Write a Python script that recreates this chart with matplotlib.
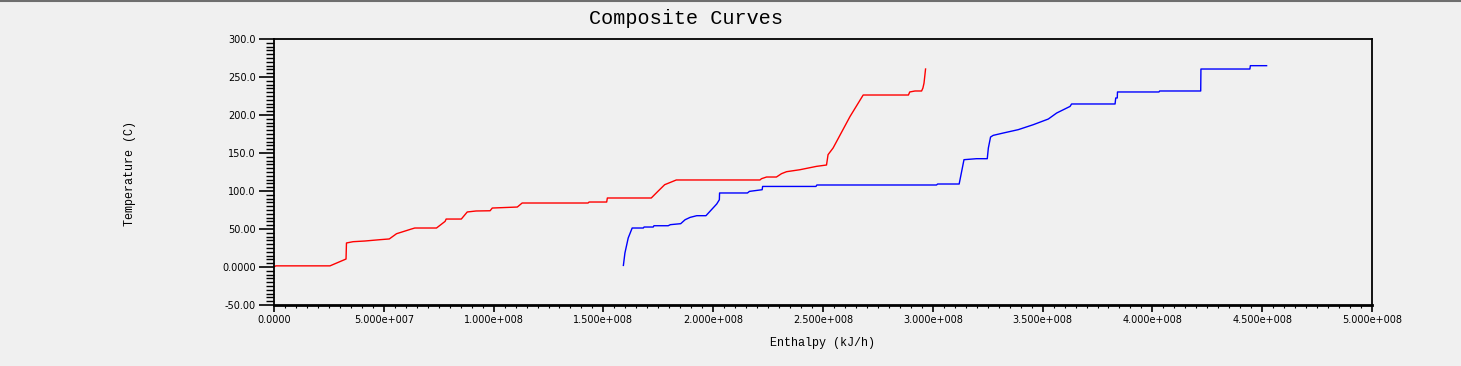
import matplotlib
matplotlib.use('Agg')
import matplotlib.pyplot as plt
from matplotlib.ticker import MultipleLocator, FixedLocator, FixedFormatter
from matplotlib.lines import Line2D

# enthalpy in 1e6 kJ/h, temperature in C
hot_h = [0, 0.8, 25.5, 32.8, 33.0, 36, 41.4, 48.5, 52.5, 55.8, 62.6, 64.1, 74, 77.9, 78.4,
         85.3, 88, 92, 98.4, 99.4, 110.8, 113, 143, 143.5, 151.5, 151.8, 171.8, 174.8,
         177.9, 183.2, 221.3, 222, 224.3, 228.8, 231.1, 233.4, 239.5, 247, 251.6, 252.3,
         254.6, 262.3, 268.3, 288.9, 289.5, 291.9, 294.9, 295.5, 296, 296.7]
hot_t = [0, 1.5, 1.5, 10.5, 31.6, 33.3, 34.2, 36, 36.9, 43.8, 50, 51.3, 51.3, 60, 63.1,
         63.1, 72.4, 73.7, 74, 77.6, 78.9, 84.2, 84.2, 85.5, 85.5, 90.8, 90.8, 99.5,
         108.3, 114.5, 114.5, 116.2, 118.4, 118.4, 122.8, 125.4, 128, 132.4, 134.2, 147.8,
         156.6, 198, 226.3, 226.3, 230.3, 231.6, 231.6, 235.5, 242, 260.5]

cold_h = [159.1, 159.8, 161.3, 163.1, 168.2, 168.5, 172.7, 173, 179.5, 180.5, 185.2, 187.2,
          189.5, 192.5, 196.7, 201.6, 202.8, 202.9, 215.6, 216.5, 222.3, 222.5, 246.8,
          247.2, 301.7, 302.2, 312, 313, 314.2, 319.9, 324.8, 325.3, 326.3, 327.5, 332.1,
          338.9, 345.7, 352.6, 356.4, 362.5, 363.2, 383, 383.3, 384, 384.1, 403, 403.3,
          422, 422.1, 444.4, 444.6, 452]
cold_t = [2.1, 18.4, 38.2, 51.3, 51.3, 52.6, 52.6, 54.3, 54.3, 55.7, 57, 62.2,
          65.3, 67.5, 67.5, 82.9, 88.5, 97.4, 97.4, 99.5, 101.7, 106, 106,
          107.9, 107.9, 109.2, 109.2, 123.7, 141.2, 142.5, 142.5, 156.6, 171, 173.2, 176.3,
          180.7, 187.2, 194.7, 202.6, 211.3, 214.5, 214.5, 222.4, 222.4, 230.3, 230.3, 231.6,
          231.6, 260.5, 260.5, 264.9, 264.9]

x_ticks = [0, 5e7, 1e8, 1.5e8, 2e8, 2.5e8, 3e8, 3.5e8, 4e8, 4.5e8, 5e8]
x_labels = ['0.0000', '5.000e+007', '1.000e+008', '1.500e+008', '2.000e+008', '2.500e+008',
            '3.000e+008', '3.500e+008', '4.000e+008', '4.500e+008', '5.000e+008']
y_ticks = [-50, 0, 50, 100, 150, 200, 250, 300]
y_labels = ['-50.00', '0.0000', '50.00', '100.0', '150.0', '200.0', '250.0', '300.0']

bg = '#f0f0f0'
fig = plt.figure(figsize=(14.61, 3.66), dpi=100, facecolor=bg)
ax = fig.add_axes([274 / 1461, 1 - 305 / 366, 1098 / 1461, 266 / 366], facecolor=bg)

ax.plot([h * 1e6 for h in hot_h], hot_t, color='#ff0000', lw=1.0)
ax.plot([h * 1e6 for h in cold_h], cold_t, color='#0000ff', lw=1.0)

ax.set_xlim(0, 5e8)
ax.set_ylim(-50, 300)
ax.xaxis.set_major_locator(FixedLocator(x_ticks))
ax.xaxis.set_major_formatter(FixedFormatter(x_labels))
ax.xaxis.set_minor_locator(MultipleLocator(5e6))
ax.yaxis.set_major_locator(FixedLocator(y_ticks))
ax.yaxis.set_major_formatter(FixedFormatter(y_labels))
ax.yaxis.set_minor_locator(MultipleLocator(5))

ax.tick_params(axis='x', which='major', direction='out', length=5, width=1.2,
               labelsize=7, pad=2)
ax.tick_params(axis='x', which='minor', direction='out', length=2.5, width=0.8)
ax.tick_params(axis='y', which='major', direction='out', length=11, width=1.2,
               labelsize=7, pad=2)
ax.tick_params(axis='y', which='minor', direction='out', length=5.5, width=1)
for s in ax.spines.values():
    s.set_linewidth(1.3)
    s.set_color('black')
ax.spines['bottom'].set_linewidth(2)

mono = 'Liberation Mono'
fig.text(686 / 1461, 1 - 18 / 366, 'Composite Curves', ha='center', va='center',
         fontsize=14.5, family=mono)
fig.text(823 / 1461, 1 - 343 / 366, 'Enthalpy (kJ/h)', ha='center', va='center',
         fontsize=8.5, family=mono)
fig.text(130 / 1461, 1 - 174 / 366, 'Temperature (C)', ha='center', va='center',
         rotation=90, fontsize=8.5, family=mono)

# dark strip along the top edge
fig.add_artist(Line2D([0, 1], [0.997, 0.997], transform=fig.transFigure,
                      color='#6e6e6e', lw=1.5))

fig.savefig('out.png', dpi=100, facecolor=bg)
